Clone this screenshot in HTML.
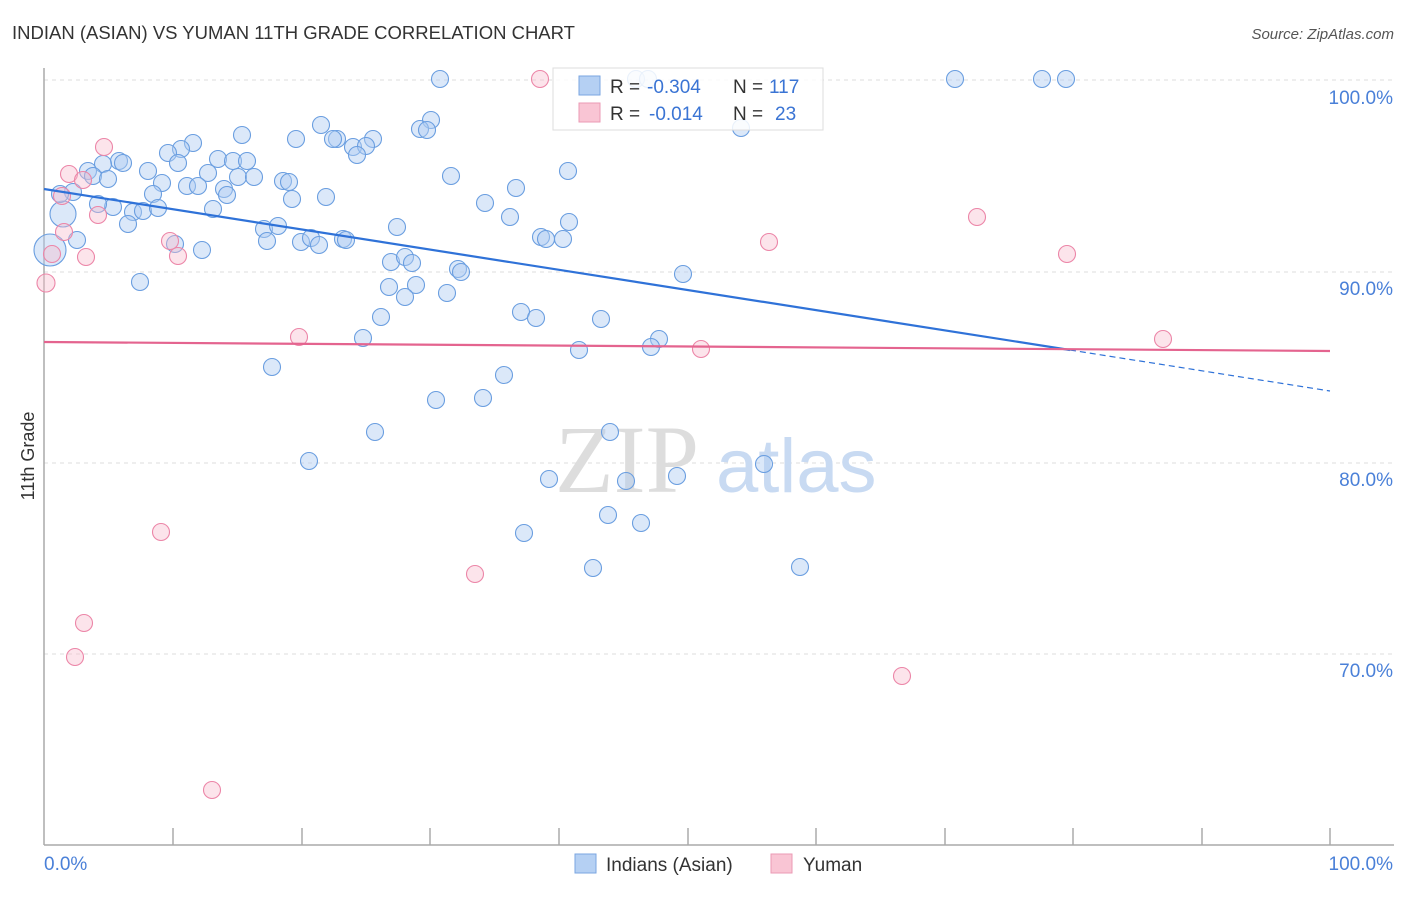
<!DOCTYPE html>
<html><head><meta charset="utf-8"><style>
body{margin:0;background:#fff;font-family:"Liberation Sans",sans-serif}
.b{fill:#b0cdf2;fill-opacity:.45;stroke:#6a9ee0;stroke-width:1.1}
.p{fill:#f7bccd;fill-opacity:.4;stroke:#ec86a8;stroke-width:1.1}
</style></head><body>
<svg width="1406" height="892" xmlns="http://www.w3.org/2000/svg" font-family="Liberation Sans, sans-serif">
<text x="12" y="39" font-size="18.5" fill="#333">INDIAN (ASIAN) VS YUMAN 11TH GRADE CORRELATION CHART</text>
<text x="1394" y="39" font-size="15" fill="#555" text-anchor="end" font-style="italic">Source: ZipAtlas.com</text>
<g stroke="#ddd" stroke-dasharray="4,4">
<line x1="44" y1="80" x2="1394" y2="80"/><line x1="44" y1="272" x2="1394" y2="272"/><line x1="44" y1="463" x2="1394" y2="463"/><line x1="44" y1="654" x2="1394" y2="654"/></g>
<line x1="44" y1="68" x2="44" y2="845" stroke="#aaa" stroke-width="1.5"/>
<line x1="44" y1="845" x2="1394" y2="845" stroke="#aaa" stroke-width="1.5"/>
<g stroke="#aaa" stroke-width="1.5">
<line x1="173" y1="828" x2="173" y2="845"/><line x1="302" y1="828" x2="302" y2="845"/><line x1="430" y1="828" x2="430" y2="845"/><line x1="559" y1="828" x2="559" y2="845"/><line x1="688" y1="828" x2="688" y2="845"/><line x1="816" y1="828" x2="816" y2="845"/><line x1="945" y1="828" x2="945" y2="845"/><line x1="1073" y1="828" x2="1073" y2="845"/><line x1="1202" y1="828" x2="1202" y2="845"/><line x1="1330" y1="828" x2="1330" y2="845"/></g>
<g font-size="19" fill="#4a80d8" text-anchor="end">
<text x="1393" y="104">100.0%</text><text x="1393" y="295">90.0%</text><text x="1393" y="486">80.0%</text><text x="1393" y="677">70.0%</text></g>
<text x="44" y="870" font-size="19" fill="#4a80d8">0.0%</text>
<text x="1393" y="870" font-size="19" fill="#4a80d8" text-anchor="end">100.0%</text>
<text x="34" y="456" font-size="18" fill="#333" text-anchor="middle" transform="rotate(-90 34 456)">11th Grade</text>
<text x="555" y="492" font-size="96" fill="#ddd" font-family="Liberation Serif, serif">ZIP</text>
<text x="716" y="492" font-size="76" fill="#c8daf2">atlas</text>
<g class="b">
<circle cx="50" cy="250" r="16"/><circle cx="63" cy="214" r="13"/>
<circle cx="440" cy="79" r="8.5"/><circle cx="636" cy="79" r="8.5"/><circle cx="648" cy="79" r="8.5"/><circle cx="955" cy="79" r="8.5"/><circle cx="1042" cy="79" r="8.5"/><circle cx="1066" cy="79" r="8.5"/><circle cx="741" cy="128" r="8.5"/><circle cx="431" cy="120" r="8.5"/><circle cx="420" cy="129" r="8.5"/><circle cx="427" cy="130" r="8.5"/><circle cx="321" cy="125" r="8.5"/><circle cx="296" cy="139" r="8.5"/><circle cx="337" cy="139" r="8.5"/><circle cx="333" cy="139" r="8.5"/><circle cx="373" cy="139" r="8.5"/><circle cx="242" cy="135" r="8.5"/><circle cx="193" cy="143" r="8.5"/><circle cx="181" cy="149" r="8.5"/><circle cx="168" cy="153" r="8.5"/><circle cx="353" cy="147" r="8.5"/><circle cx="366" cy="146" r="8.5"/><circle cx="357" cy="155" r="8.5"/><circle cx="119" cy="161" r="8.5"/><circle cx="123" cy="163" r="8.5"/><circle cx="103" cy="164" r="8.5"/><circle cx="88" cy="171" r="8.5"/><circle cx="93" cy="176" r="8.5"/><circle cx="108" cy="179" r="8.5"/><circle cx="148" cy="171" r="8.5"/><circle cx="178" cy="163" r="8.5"/><circle cx="218" cy="159" r="8.5"/><circle cx="233" cy="161" r="8.5"/><circle cx="247" cy="161" r="8.5"/><circle cx="208" cy="173" r="8.5"/><circle cx="238" cy="177" r="8.5"/><circle cx="254" cy="177" r="8.5"/><circle cx="283" cy="181" r="8.5"/><circle cx="289" cy="182" r="8.5"/><circle cx="162" cy="183" r="8.5"/><circle cx="187" cy="186" r="8.5"/><circle cx="198" cy="186" r="8.5"/><circle cx="224" cy="189" r="8.5"/><circle cx="227" cy="195" r="8.5"/><circle cx="153" cy="194" r="8.5"/><circle cx="73" cy="192" r="8.5"/><circle cx="60" cy="194" r="8.5"/><circle cx="292" cy="199" r="8.5"/><circle cx="326" cy="197" r="8.5"/><circle cx="451" cy="176" r="8.5"/><circle cx="568" cy="171" r="8.5"/><circle cx="516" cy="188" r="8.5"/><circle cx="485" cy="203" r="8.5"/><circle cx="113" cy="207" r="8.5"/><circle cx="98" cy="204" r="8.5"/><circle cx="133" cy="212" r="8.5"/><circle cx="143" cy="211" r="8.5"/><circle cx="158" cy="208" r="8.5"/><circle cx="213" cy="209" r="8.5"/><circle cx="128" cy="224" r="8.5"/><circle cx="264" cy="229" r="8.5"/><circle cx="278" cy="226" r="8.5"/><circle cx="397" cy="227" r="8.5"/><circle cx="510" cy="217" r="8.5"/><circle cx="569" cy="222" r="8.5"/><circle cx="267" cy="241" r="8.5"/><circle cx="301" cy="242" r="8.5"/><circle cx="311" cy="238" r="8.5"/><circle cx="319" cy="245" r="8.5"/><circle cx="343" cy="239" r="8.5"/><circle cx="346" cy="240" r="8.5"/><circle cx="541" cy="237" r="8.5"/><circle cx="546" cy="239" r="8.5"/><circle cx="563" cy="239" r="8.5"/><circle cx="77" cy="240" r="8.5"/><circle cx="202" cy="250" r="8.5"/><circle cx="175" cy="244" r="8.5"/><circle cx="391" cy="262" r="8.5"/><circle cx="405" cy="257" r="8.5"/><circle cx="412" cy="263" r="8.5"/><circle cx="458" cy="269" r="8.5"/><circle cx="461" cy="272" r="8.5"/><circle cx="683" cy="274" r="8.5"/><circle cx="140" cy="282" r="8.5"/><circle cx="389" cy="287" r="8.5"/><circle cx="416" cy="285" r="8.5"/><circle cx="405" cy="297" r="8.5"/><circle cx="447" cy="293" r="8.5"/><circle cx="521" cy="312" r="8.5"/><circle cx="536" cy="318" r="8.5"/><circle cx="601" cy="319" r="8.5"/><circle cx="381" cy="317" r="8.5"/><circle cx="363" cy="338" r="8.5"/><circle cx="659" cy="339" r="8.5"/><circle cx="651" cy="347" r="8.5"/><circle cx="579" cy="350" r="8.5"/><circle cx="272" cy="367" r="8.5"/><circle cx="504" cy="375" r="8.5"/><circle cx="436" cy="400" r="8.5"/><circle cx="483" cy="398" r="8.5"/><circle cx="375" cy="432" r="8.5"/><circle cx="610" cy="432" r="8.5"/><circle cx="309" cy="461" r="8.5"/><circle cx="549" cy="479" r="8.5"/><circle cx="626" cy="481" r="8.5"/><circle cx="677" cy="476" r="8.5"/><circle cx="764" cy="464" r="8.5"/><circle cx="608" cy="515" r="8.5"/><circle cx="641" cy="523" r="8.5"/><circle cx="524" cy="533" r="8.5"/><circle cx="593" cy="568" r="8.5"/><circle cx="800" cy="567" r="8.5"/>
</g>
<g class="p">
<circle cx="540" cy="79" r="8.5"/><circle cx="104" cy="147" r="8.5"/><circle cx="69" cy="174" r="8.5"/><circle cx="83" cy="180" r="8.5"/><circle cx="62" cy="196" r="8.5"/><circle cx="98" cy="215" r="8.5"/><circle cx="64" cy="232" r="8.5"/><circle cx="52" cy="254" r="8.5"/><circle cx="86" cy="257" r="8.5"/><circle cx="46" cy="283" r="9"/><circle cx="170" cy="241" r="8.5"/><circle cx="178" cy="256" r="8.5"/><circle cx="769" cy="242" r="8.5"/><circle cx="977" cy="217" r="8.5"/><circle cx="1067" cy="254" r="8.5"/><circle cx="299" cy="337" r="8.5"/><circle cx="701" cy="349" r="8.5"/><circle cx="1163" cy="339" r="8.5"/><circle cx="161" cy="532" r="8.5"/><circle cx="475" cy="574" r="8.5"/><circle cx="84" cy="623" r="8.5"/><circle cx="75" cy="657" r="8.5"/><circle cx="902" cy="676" r="8.5"/><circle cx="212" cy="790" r="8.5"/>
</g>
<line x1="44" y1="189" x2="1070" y2="350" stroke="#2f72d8" stroke-width="2.2"/>
<line x1="1070" y1="350" x2="1330" y2="391" stroke="#2f72d8" stroke-width="1.2" stroke-dasharray="6,4"/>
<line x1="44" y1="342" x2="1330" y2="351" stroke="#e4648f" stroke-width="2.2"/>
<rect x="553" y="68" width="270" height="62" fill="#fff" fill-opacity=".85" stroke="#ddd"/>
<rect x="579" y="76" width="21" height="19" fill="#b5d0f3" stroke="#7aa6e0"/>
<rect x="579" y="103" width="21" height="19" fill="#f9c5d4" stroke="#eb9ab4"/>
<g font-size="19" fill="#333"><text x="610" y="93">R =</text><text x="610" y="120">R =</text><text x="733" y="93">N =</text><text x="733" y="120">N =</text></g>
<g font-size="19" fill="#3a74d4"><text x="647" y="93">-0.304</text><text x="649" y="120">-0.014</text><text x="769" y="93">117</text><text x="775" y="120">23</text></g>
<rect x="575" y="854" width="21" height="19" fill="#b5d0f3" stroke="#7aa6e0"/>
<text x="606" y="871" font-size="19" fill="#333">Indians (Asian)</text>
<rect x="771" y="854" width="21" height="19" fill="#f9c5d4" stroke="#eb9ab4"/>
<text x="803" y="871" font-size="19" fill="#333">Yuman</text>
</svg>
</body></html>
